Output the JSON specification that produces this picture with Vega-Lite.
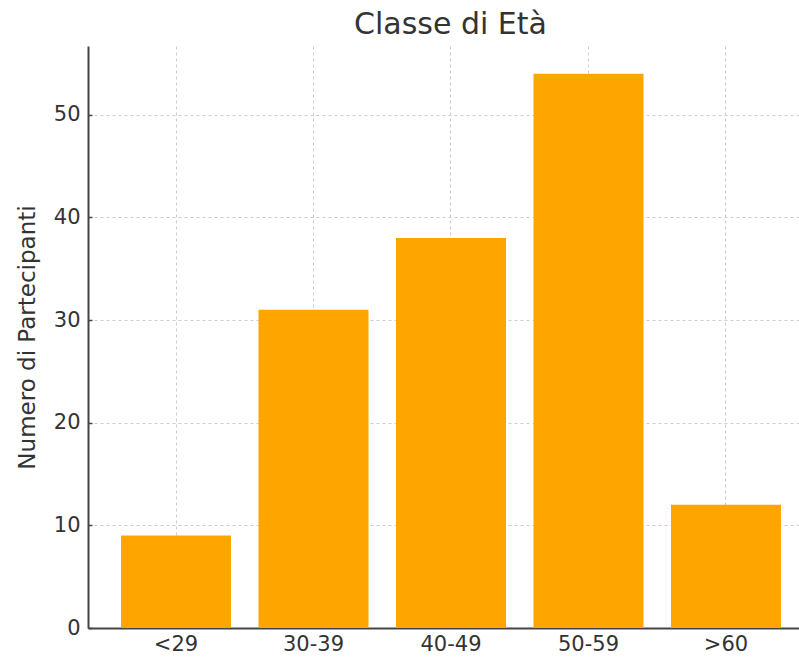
{
  "$schema": "https://vega.github.io/schema/vega-lite/v6.json",
  "autosize": "none",
  "width": 711,
  "height": 582,
  "padding": {"left": 88, "top": 46, "right": 0, "bottom": 32},
  "background": "white",
  "title": {
    "text": "Classe di Età",
    "font": "DejaVu Sans",
    "fontSize": 30,
    "fontWeight": "normal",
    "color": "#333333",
    "anchor": "middle",
    "dx": 7,
    "offset": 6
  },
  "config": {
    "view": {"stroke": null},
    "axis": {
      "zindex": 1,
      "labelFont": "DejaVu Sans",
      "labelFontSize": 21,
      "labelColor": "#333333",
      "titleFont": "DejaVu Sans",
      "titleFontSize": 23,
      "titleFontWeight": "normal",
      "titleColor": "#333333",
      "domainColor": "#444444",
      "domainWidth": 2,
      "tickColor": "#444444",
      "tickWidth": 1.5,
      "tickSize": -4,
      "gridColor": "#cccccc",
      "gridDash": [3, 3],
      "gridWidth": 1
    }
  },
  "data": {
    "values": [
      {"classe": "<29", "n": 9},
      {"classe": "30-39", "n": 31},
      {"classe": "40-49", "n": 38},
      {"classe": "50-59", "n": 54},
      {"classe": ">60", "n": 12}
    ]
  },
  "mark": {"type": "bar", "color": "#FFA500"},
  "encoding": {
    "x": {
      "field": "classe",
      "type": "nominal",
      "sort": null,
      "scale": {"paddingInner": 0.2, "paddingOuter": 0.1855, "align": 0.647},
      "axis": {
        "title": null,
        "labelAngle": 0,
        "labelPadding": 9,
        "grid": true,
        "tickBand": "center",
        "bandPosition": 0.5
      }
    },
    "y": {
      "field": "n",
      "type": "quantitative",
      "scale": {"domain": [0, 56.7], "nice": false},
      "axis": {
        "title": "Numero di Partecipanti",
        "values": [0, 10, 20, 30, 40, 50],
        "labelPadding": 12,
        "titlePadding": 14,
        "grid": true
      }
    }
  }
}
